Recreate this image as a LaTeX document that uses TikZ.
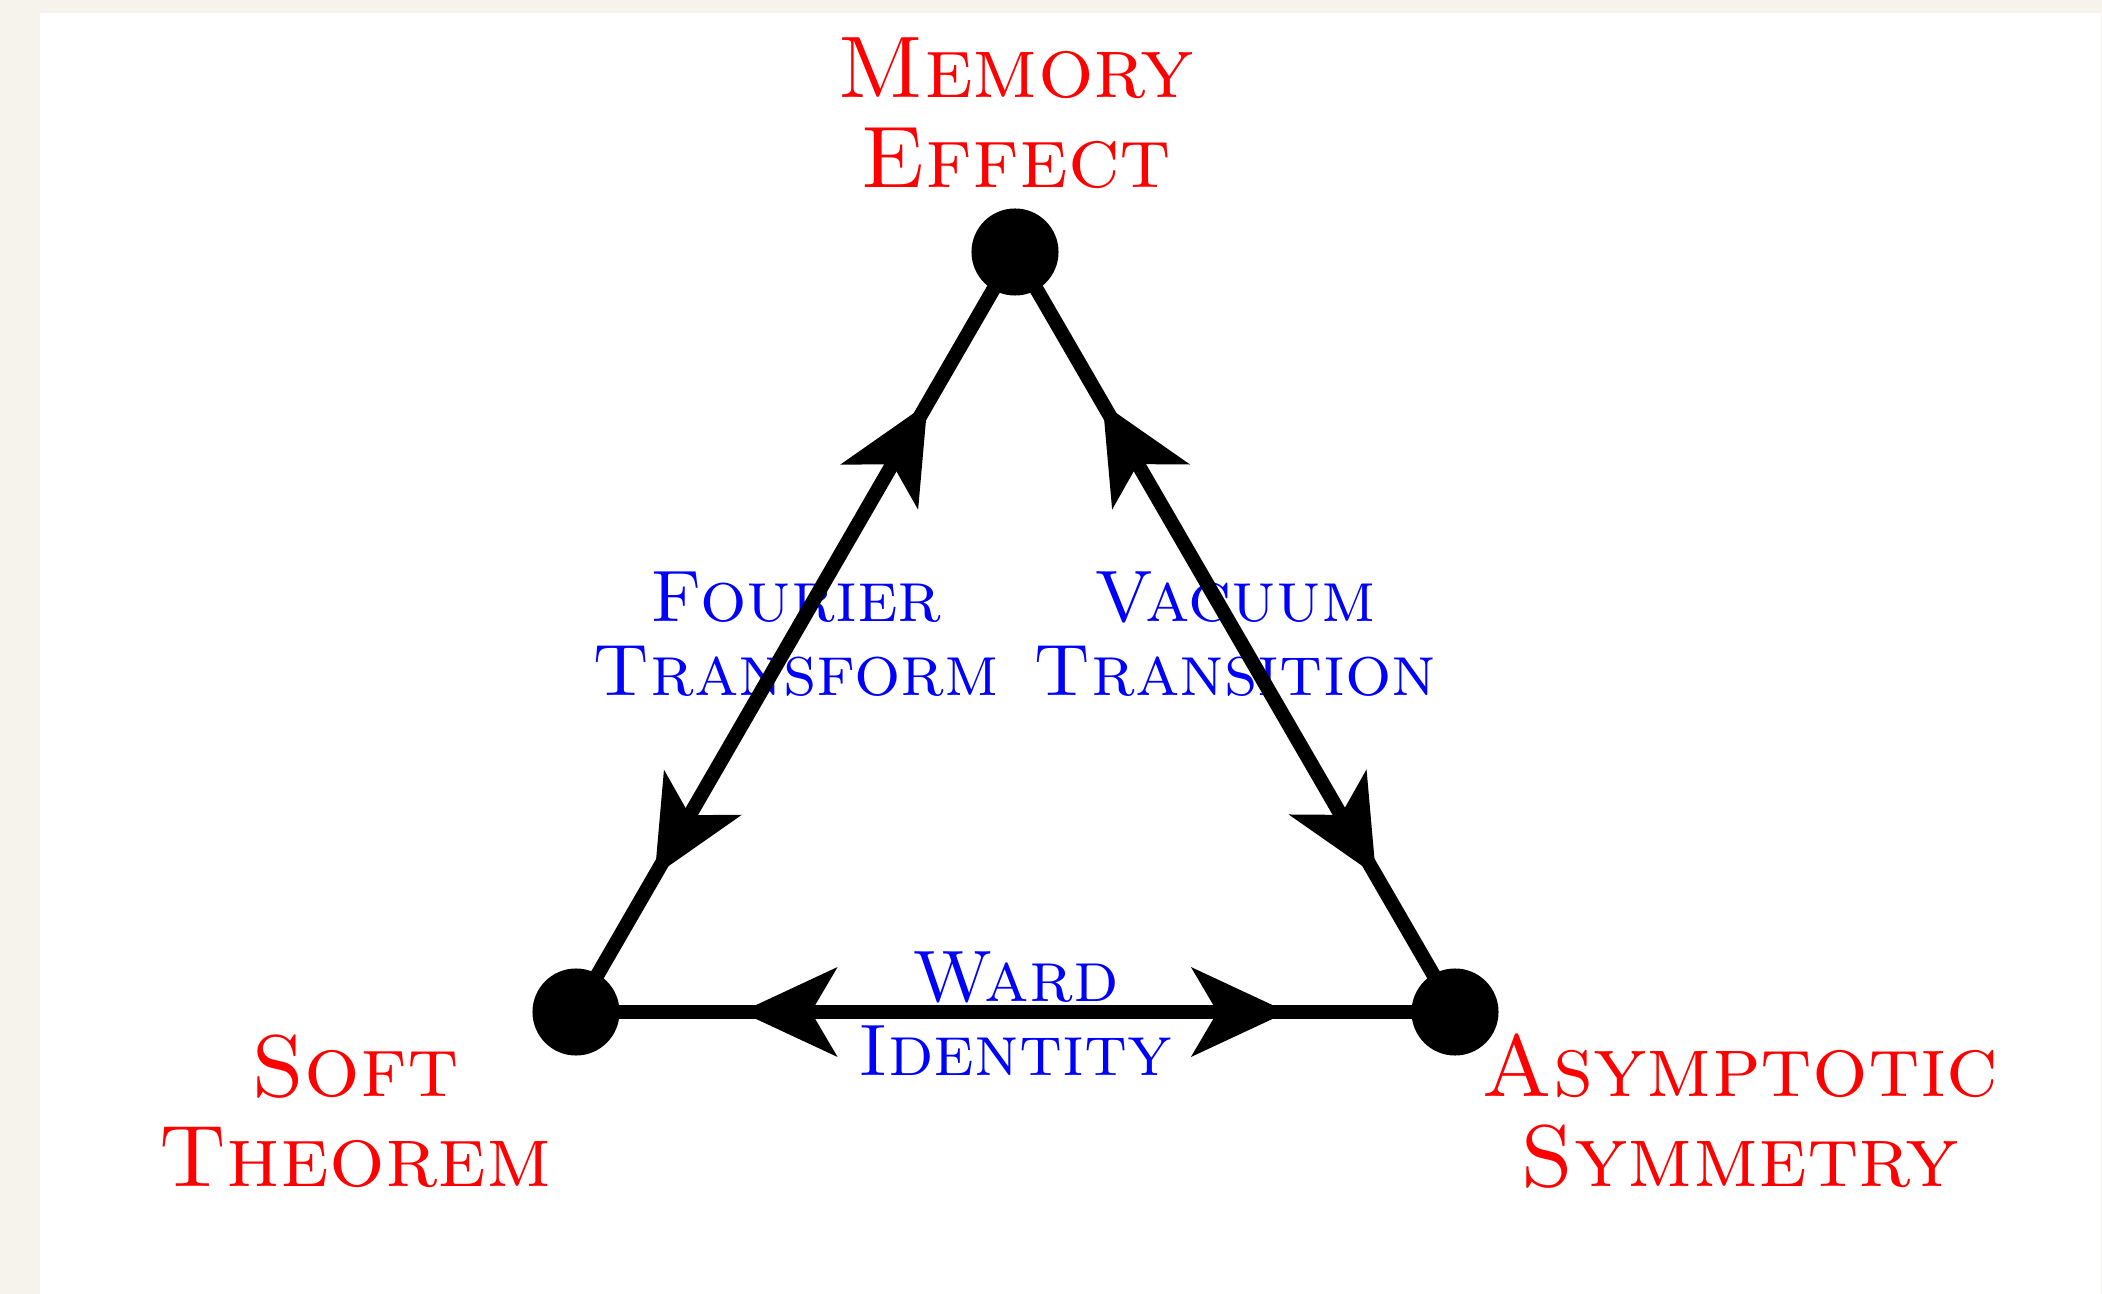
\documentclass[tikz,border=0pt]{standalone}
\usetikzlibrary{decorations.markings}
\definecolor{paper}{RGB}{246,243,237}
\begin{document}
\begin{tikzpicture}[x=0.01cm,y=-0.01cm,
  vertex/.style={circle,fill=black,inner sep=0pt,outer sep=0pt,minimum size=0.87cm},
  redlbl/.style={text=red,align=center,inner sep=0pt,font=\fontsize{24.88}{25.6}\selectfont\scshape},
  bluelbl/.style={text=blue,align=center,inner sep=0pt,font=\fontsize{20.74}{21.05}\selectfont\scshape},
  edge/.style 2 args={line width=0.143cm,postaction={decorate,decoration={markings,
     mark=at position #1 with {\fill (0,7)--(81.5,45)--(55,0)--(81.5,-45)--(0,-7)--cycle;},
     mark=at position #2 with {\fill (0,7)--(-81.5,45)--(-55,0)--(-81.5,-45)--(0,-7)--cycle;}}}}
]
\useasboundingbox (0,0) rectangle (2102,1294);
\fill[paper] (0,0) rectangle (2102,1294);
\fill[white] (40,13) rectangle (2101,1294);

\node[vertex] (M) at (1015,252) {};
\node[vertex] (S) at (576,1012) {};
\node[vertex] (A) at (1455,1012) {};

\node[redlbl] (mem) at (1016,113) {Memory\\Effect};
\node[redlbl] (soft) at (355,1111) {Soft\\Theorem};
\node[redlbl] (asy) at (1740,1111) {Asymptotic\\Symmetry};
\node[bluelbl] (four) at (796,634) {Fourier\\Transform};
\node[bluelbl] (vac) at (1235,634) {Vacuum\\Transition};
\node[bluelbl] (ward) at (1015.5,1014) {Ward\\Identity};

\draw[edge={1.90cm}{7.05cm}] (M.center) -- (S.center);
\draw[edge={1.90cm}{7.05cm}] (M.center) -- (A.center);
\draw[edge={1.80cm}{6.96cm}] (S.center) -- (A.center);
\end{tikzpicture}
\end{document}
